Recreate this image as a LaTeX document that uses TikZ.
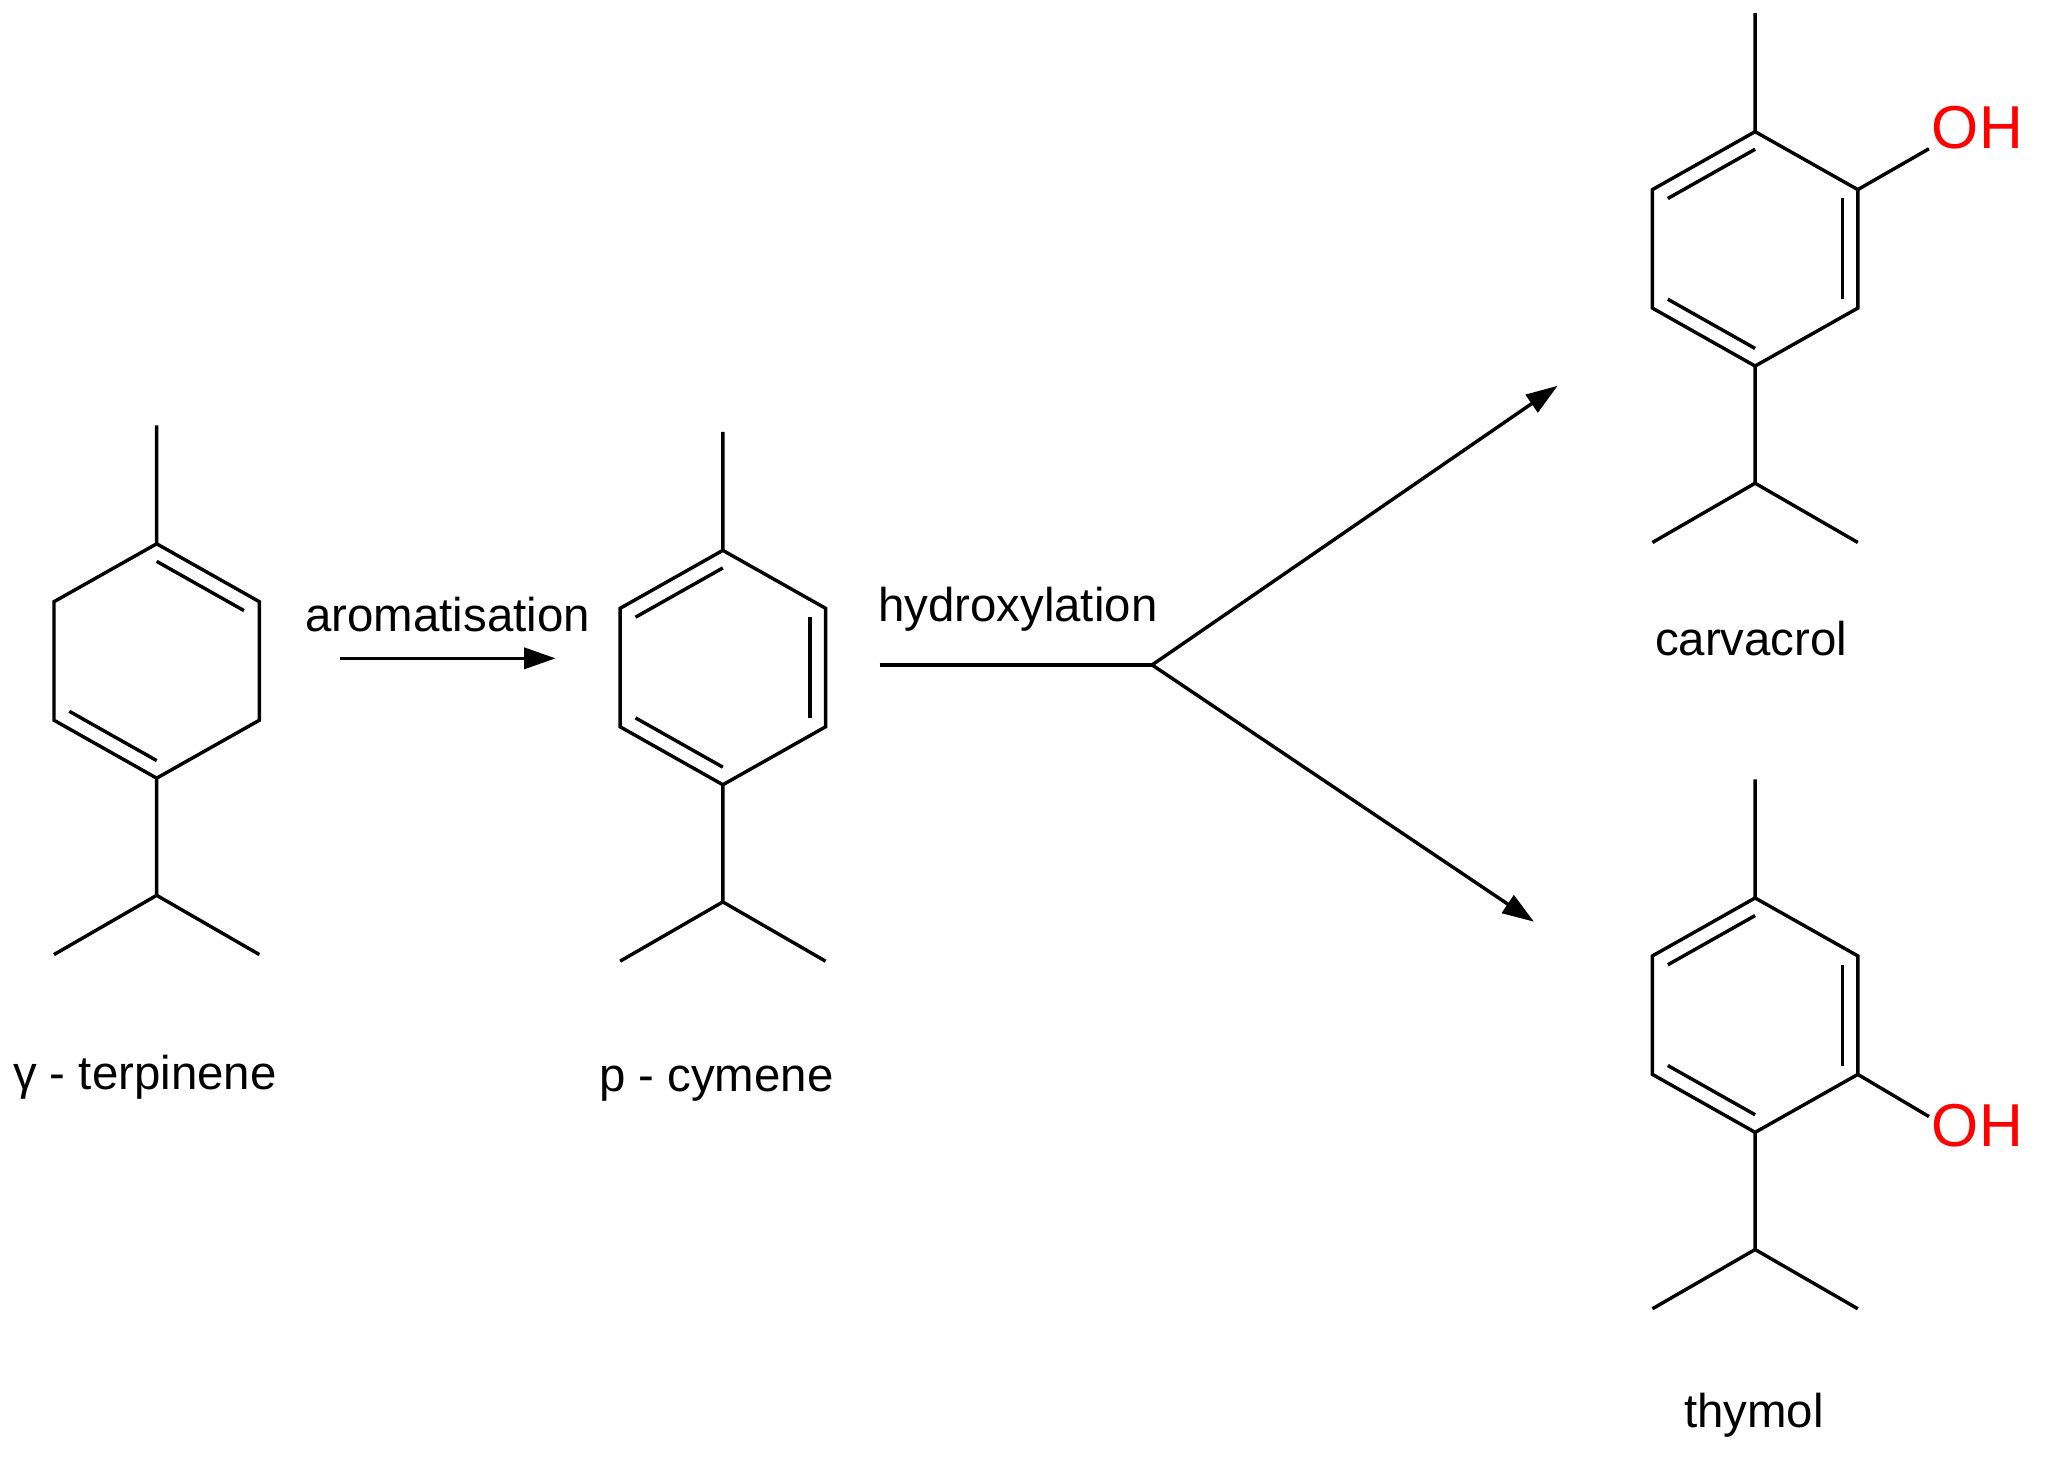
\documentclass[tikz,border=0pt]{standalone}
\usepackage{fontspec}
\setmainfont{Liberation Sans}
\usetikzlibrary{calc,arrows.meta}
\begin{document}
\begin{tikzpicture}[x=0.5pt,y=-0.5pt,line width=1.3pt,
  lbl/.style={font=\fontsize{18}{20}\selectfont},
  oh/.style={font=\fontsize{23}{24}\selectfont,text=red,inner sep=0pt},
  arr/.style={-{Triangle[length=12pt,width=8pt]}}]
\useasboundingbox (0,0) rectangle (1560,1108);
\newcommand\ring[3]{% name, cx, cy top
  \coordinate (#1c) at (#2,#3+89);
  \coordinate (#11) at (#2,#3);
  \coordinate (#12) at (#2+78,#3+44);
  \coordinate (#13) at (#2+78,#3+134);
  \coordinate (#14) at (#2,#3+178);
  \coordinate (#15) at (#2-78,#3+134);
  \coordinate (#16) at (#2-78,#3+44);
  \draw (#11)--(#12)--(#13)--(#14)--(#15)--(#16)--cycle;
  \coordinate (#1m) at (#2,#3-90);
  \coordinate (#1i) at (#2,#3+267);
  \coordinate (#1l) at (#2-78,#3+312);
  \coordinate (#1r) at (#2+78,#3+312);
  \draw (#11)--(#1m) (#14)--(#1i)--(#1l) (#1i)--(#1r);}
\newcommand\dbl[3]{\draw ($(#1#2)!0.15!(#1c)$)--($(#1#3)!0.15!(#1c)$);}
% gamma-terpinene
\ring{g}{119}{413}
\dbl{g}{1}{2}\dbl{g}{4}{5}
\node[lbl] (gl) at (110,818) {γ - terpinene};
% p-cymene
\ring{p}{549}{418}
\dbl{p}{6}{1}\dbl{p}{2}{3}\dbl{p}{4}{5}
\node[lbl] (pl) at (544,823) {p - cymene};
% carvacrol
\ring{c}{1333}{100}
\dbl{c}{6}{1}\dbl{c}{2}{3}\dbl{c}{4}{5}
\node[oh,anchor=west] (coh) at (1466,97) {OH};
\draw (c2)--(1465,113);
\node[lbl] (cl) at (1330,485) {carvacrol};
% thymol
\ring{t}{1333}{682}
\dbl{t}{6}{1}\dbl{t}{2}{3}\dbl{t}{4}{5}
\node[oh,anchor=west] (toh) at (1466,855) {OH};
\draw (t3)--(1465,848);
\node[lbl] (tl) at (1332,1075) {thymol};
% arrows
\coordinate (a1) at (258,500); \coordinate (a2) at (422,500);
\draw[arr] (a1)--(a2);
\node[lbl] (al) at (340,467) {aromatisation};
\coordinate (h1) at (668,505); \coordinate (hb) at (875,505);
\coordinate (hu) at (1183,293); \coordinate (hd) at (1165,700);
\draw (h1)--(hb);
\draw[arr] (hb)--(hu);
\draw[arr] (hb)--(hd);
\node[lbl] (hl) at (773,463) {hydroxylation};
\end{tikzpicture}
\end{document}
